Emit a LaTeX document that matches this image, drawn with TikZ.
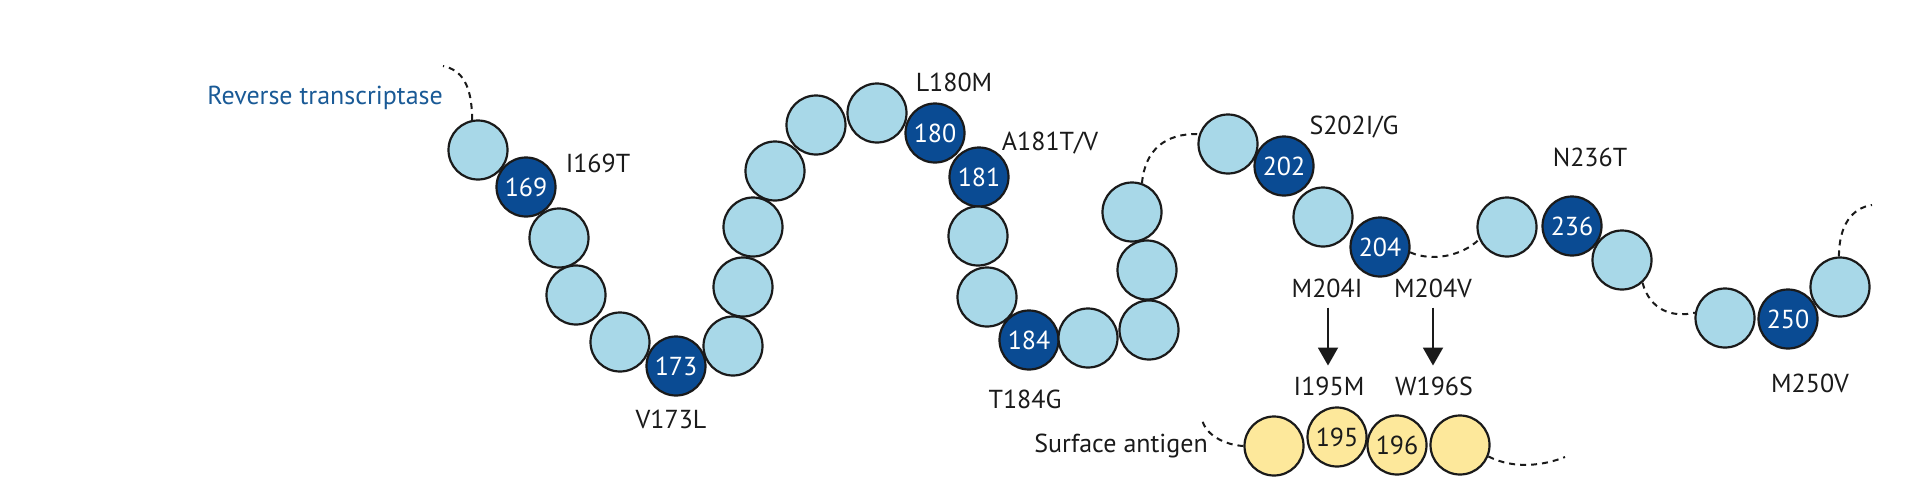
\documentclass[tikz,border=0pt]{standalone}
\usepackage{fontspec}
\setmainfont{PT Sans}
\usetikzlibrary{arrows.meta}
\definecolor{lightres}{HTML}{A8D8E8}
\definecolor{darkres}{HTML}{0A4B93}
\definecolor{yellowres}{HTML}{FDE89B}
\definecolor{rtblue}{HTML}{1A5A96}
\definecolor{ink}{HTML}{1A1A1A}
\begin{document}
\begin{tikzpicture}[x=1pt,y=-1pt,
  every node/.style={font=\fontsize{26}{30}\selectfont, text=ink},
  res/.style={circle, draw=ink, line width=2.2pt, minimum size=59pt, inner sep=0pt, fill=lightres},
  mut/.style={res, fill=darkres, text=white},
  sag/.style={res, fill=yellowres, text=ink},
  lbl/.style={inner sep=0pt, anchor=base},
  chain/.style={draw=ink, line width=2pt, dash pattern=on 6pt off 5pt},
  arr/.style={draw=ink, line width=2pt, -{Triangle[width=20pt,length=18pt]}}
]
\useasboundingbox (0,0) rectangle (1920,483);

% reverse transcriptase chain
\node[res] (c1) at (478,150) {};
\node[mut] (c169) at (526,187) {169};
\node[res] (c3) at (559,238) {};
\node[res] (c4) at (576,295) {};
\node[res] (c5) at (620,342) {};
\node[mut] (c173) at (676,366) {173};
\node[res] (c7) at (733,346) {};
\node[res] (c8) at (743,287) {};
\node[res] (c9) at (753,227) {};
\node[res] (c10) at (775,171) {};
\node[res] (c11) at (816,125) {};
\node[res] (c12) at (877,113) {};
\node[mut] (c180) at (935,133) {180};
\node[mut] (c181) at (979,177) {181};
\node[res] (c15) at (978,236) {};
\node[res] (c16) at (987,297) {};
\node[mut] (c184) at (1029,340) {184};
\node[res] (c18) at (1088,338) {};
\node[res] (c19) at (1149,330) {};
\node[res] (c20) at (1147,270) {};
\node[res] (c21) at (1132,212) {};
\node[res] (c22) at (1228,144) {};
\node[mut] (c202) at (1284,166) {202};
\node[res] (c24) at (1323,217) {};
\node[mut] (c204) at (1380,247) {204};
\node[res] (c26) at (1507,227) {};
\node[mut] (c236) at (1572,226) {236};
\node[res] (c28) at (1622,260) {};
\node[res] (c29) at (1725,318) {};
\node[mut] (c250) at (1788,319) {250};
\node[res] (c31) at (1840,287) {};

% dashed links
\coordinate (rtstart) at (443,66);
\coordinate (rtend) at (1872,205);
\draw[chain] (c1.101) .. controls (472,85) and (462,70) .. (rtstart);
\draw[chain] (c21.71) .. controls (1145,150) and (1165,133) .. (c22.161);
\draw[chain] (c204.-10) .. controls (1432,262) and (1462,256) .. (c26.204);
\draw[chain] (c28.312) .. controls (1650,310) and (1672,318) .. (c29.170);
\draw[chain] (c31.92) .. controls (1839,225) and (1852,208) .. (rtend);

% surface antigen chain
\node[sag] (y1) at (1274,446) {};
\node[sag] (y195) at (1337,437) {195};
\node[sag] (y196) at (1397,445) {196};
\node[sag] (y4) at (1460,445) {};
\coordinate (sastart) at (1202,419);
\coordinate (saend) at (1565,457);
\draw[chain] (y1.180) .. controls (1225,445) and (1205,435) .. (sastart);
\draw[chain] (y4.-22) .. controls (1515,470) and (1545,465) .. (saend);

% labels
\node[lbl, anchor=base east, text=rtblue] (rtlabel) at (443,104) {Reverse transcriptase};
\node[lbl, anchor=base east] (salabel) at (1208,452) {Surface antigen};
\node[lbl] (l169) at (598,172) {I169T};
\node[lbl] (l173) at (671,428) {V173L};
\node[lbl] (l180) at (954,91) {L180M};
\node[lbl] (l181) at (1050,150) {A181T/V};
\node[lbl] (l184) at (1025,408) {T184G};
\node[lbl] (l202) at (1354,134) {S202I/G};
\node[lbl] (l236) at (1590,166) {N236T};
\node[lbl] (l204i) at (1327,297) {M204I};
\node[lbl] (l204v) at (1433,297) {M204V};
\node[lbl] (l195) at (1329,395) {I195M};
\node[lbl] (l196) at (1434,395) {W196S};
\node[lbl] (l250) at (1810,392) {M250V};

% arrows
\draw[arr] (l204i.south) ++(1,10) coordinate (a1s) (a1s) -- ++(0,58);
\draw[arr] (l204v.south) ++(0,10) coordinate (a2s) (a2s) -- ++(0,58);
\end{tikzpicture}
\end{document}
